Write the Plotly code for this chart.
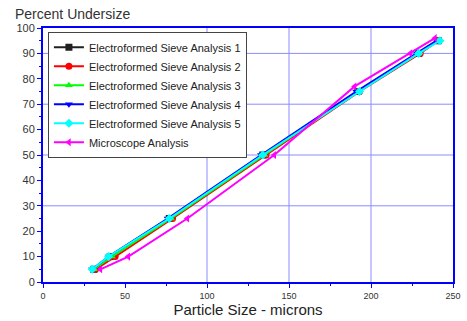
import plotly.graph_objects as go

y_levels = [5, 10, 25, 50, 75, 90, 95]
sieve1_x = [31, 41, 77, 134, 192, 229, 241]
sieve2_x = [32, 44, 79, 136, 193, 230, 241]
sieve3_x = [31, 42, 78, 135, 192, 229, 241]
sieve4_x = [30, 40, 76, 133, 191, 228, 240]
sieve5_x = [30, 40, 77, 134, 193, 229, 242]
micro_x = [35, 52, 88, 141, 190, 224, 239]
micro_y = [5, 10, 25, 50, 77, 90, 96]

names = ["Electroformed Sieve Analysis 1", "Electroformed Sieve Analysis 2",
         "Electroformed Sieve Analysis 3", "Electroformed Sieve Analysis 4",
         "Electroformed Sieve Analysis 5", "Microscope Analysis"]
xs = [sieve1_x, sieve2_x, sieve3_x, sieve4_x, sieve5_x, micro_x]
ys = [y_levels] * 5 + [micro_y]
colors = ["#202020", "#ff0000", "#00ff00", "#0000ff", "#00ffff", "#ff00ff"]
symbols = ["square", "circle", "triangle-up", "triangle-down", "diamond", "triangle-left"]

x_grid = [100, 150, 200]
y_grid = [30, 50, 70, 90]

fig = go.Figure()
for n, x, y, c, s in zip(names, xs, ys, colors, symbols):
    fig.add_trace(go.Scatter(x=x, y=y, name=n, mode="lines+markers",
                             line=dict(color=c, width=2),
                             marker=dict(symbol=s, color=c, size=7)))

shapes = []
for gx in x_grid:
    shapes.append(dict(type="line", xref="x", yref="paper", x0=gx, x1=gx, y0=0, y1=1,
                       line=dict(color="#8c8cff", width=1), layer="below"))
for gy in y_grid:
    shapes.append(dict(type="line", xref="paper", yref="y", x0=0, x1=1, y0=gy, y1=gy,
                       line=dict(color="#8c8cff", width=1), layer="below"))

fig.update_layout(
    width=467, height=321,
    margin=dict(l=43, r=6, t=28, b=35),
    paper_bgcolor="white", plot_bgcolor="white",
    font=dict(family="Liberation Sans, Arial, sans-serif", size=9, color="#333"),
    shapes=shapes,
    showlegend=True,
    legend=dict(x=0.012, y=0.985, xanchor="left", yanchor="top",
                bgcolor="white", bordercolor="#444", borderwidth=1,
                font=dict(size=11, color="#222"), tracegroupgap=0,
                itemwidth=30),
    xaxis=dict(range=[0, 250], dtick=50, tick0=0, showgrid=False, zeroline=False,
               showline=True, linecolor="#0000ff", linewidth=2, mirror=True,
               ticks="outside", ticklen=4, tickcolor="#0000ff", tickwidth=1,
               minor=dict(dtick=25, ticks="outside", ticklen=2, tickcolor="#0000ff", showgrid=False),
               tickfont=dict(size=9, color="#333"),
               title=dict(text="Particle Size - microns", font=dict(size=15, color="#222"), standoff=4)),
    yaxis=dict(range=[0, 100], dtick=10, tick0=0, showgrid=False, zeroline=False,
               showline=True, linecolor="#0000ff", linewidth=2, mirror=True,
               ticks="outside", ticklen=4, tickcolor="#0000ff", tickwidth=1,
               minor=dict(dtick=5, ticks="outside", ticklen=2, tickcolor="#0000ff", showgrid=False),
               tickfont=dict(size=11, color="#333")),
    annotations=[dict(text="Percent Undersize", xref="paper", yref="paper",
                      x=-0.072, y=1.0, xanchor="left", yanchor="bottom", yshift=4,
                      showarrow=False, font=dict(size=14, color="#333"))],
)

fig.write_html("out.html")
